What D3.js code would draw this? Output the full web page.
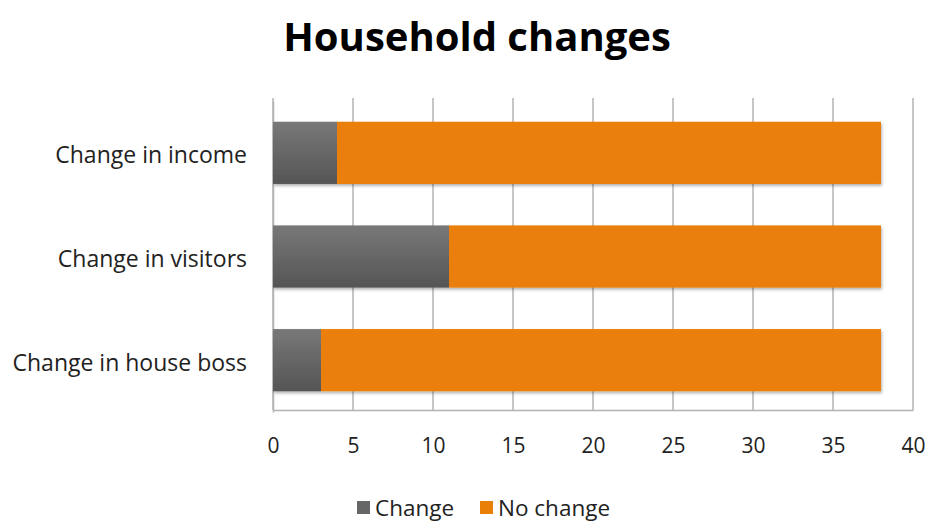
<!DOCTYPE html>
<html>
<head>
<meta charset="utf-8">
<script src="https://d3js.org/d3.v7.min.js"></script>
<style>
  body { margin: 0; background: #fff; }
  text { font-family: "Open Sans", sans-serif; fill: #222; }
</style>
</head>
<body>
<div id="chart"></div>
<script>
var w = 931, h = 523;

// Chart data
var categories = ["Change in income", "Change in visitors", "Change in house boss"];
var changeValues = [4, 11, 3];
var noChangeValues = [34, 27, 35];
var seriesNames = ["Change", "No change"];
var xTicks = [0, 5, 10, 15, 20, 25, 30, 35, 40];

var colors = ["#666666", "#ea7f07"];

var margin = { left: 273, right: 18, top: 98, bottom: 113 };

var x = d3.scaleLinear()
  .domain([0, 40])
  .range([margin.left, w - margin.right]);

var y = d3.scaleBand()
  .domain(categories)
  .range([margin.top + 3, h - margin.bottom + 2])
  .paddingInner(0.4)
  .paddingOuter(0.2);

var svg = d3.select("#chart")
  .append("svg")
  .attr("width", w)
  .attr("height", h);

var defs = svg.append("defs");
var grad = defs.append("linearGradient")
  .attr("id", "grayGrad")
  .attr("x1", 0).attr("y1", 0).attr("x2", 0).attr("y2", 1);
grad.append("stop").attr("offset", "0%").attr("stop-color", "#787878");
grad.append("stop").attr("offset", "100%").attr("stop-color", "#555555");

var shadow = defs.append("filter").attr("id", "shadow")
  .attr("x", "-5%").attr("y", "-10%").attr("width", "110%").attr("height", "130%");
shadow.append("feDropShadow")
  .attr("dx", 1).attr("dy", 2).attr("stdDeviation", 1.5)
  .attr("flood-color", "#000").attr("flood-opacity", 0.3);

// Title
svg.append("text")
  .attr("x", 477)
  .attr("y", 51)
  .attr("text-anchor", "middle")
  .style("font-size", "40px")
  .style("font-weight", "bold")
  .style("fill", "#000")
  .text("Household changes");

// Gridlines
svg.append("g")
  .selectAll("line")
  .data(xTicks)
  .enter()
  .append("line")
  .attr("x1", function(d) { return x(d); })
  .attr("x2", function(d) { return x(d); })
  .attr("y1", margin.top)
  .attr("y2", h - margin.bottom)
  .attr("stroke", "#b3b3b3")
  .attr("stroke-width", 1.5);

// Bottom axis
var xAxis = d3.axisBottom(x)
  .tickValues(xTicks)
  .tickSize(0)
  .tickPadding(28);

var gx = svg.append("g")
  .attr("transform", "translate(0," + (h - margin.bottom) + ")")
  .call(xAxis);
gx.select(".domain").attr("stroke", "#b3b3b3").attr("stroke-width", 1.5);
gx.selectAll("text").style("font-size", "21px").style("fill", "#222");

// Left axis
var yAxis = d3.axisLeft(y).tickSize(0).tickPadding(26);
var gy = svg.append("g")
  .attr("transform", "translate(" + margin.left + ",0)")
  .call(yAxis);
gy.select(".domain").attr("stroke", "#b3b3b3").attr("stroke-width", 1.5);
gy.selectAll("text")
  .attr("dy", "0.45em")
  .style("font-size", "23px")
  .style("fill", "#222");

// Stacked bars
var rows = categories.map(function(c, i) {
  return { cat: c, change: changeValues[i], noChange: noChangeValues[i] };
});
var stack = d3.stack().keys(["change", "noChange"]);
var layers = stack(rows);

var barG = svg.append("g").attr("filter", "url(#shadow)");
layers.forEach(function(layer, k) {
  barG.append("g")
    .selectAll("rect")
    .data(layer)
    .enter()
    .append("rect")
    .attr("x", function(d) { return x(d[0]); })
    .attr("width", function(d) { return x(d[1]) - x(d[0]); })
    .attr("y", function(d) { return y(d.data.cat); })
    .attr("height", y.bandwidth())
    .attr("fill", k === 0 ? "url(#grayGrad)" : colors[1]);
});

// Legend
var legend = svg.append("g");
var legendX = [357, 480];
seriesNames.forEach(function(name, i) {
  legend.append("rect")
    .attr("x", legendX[i])
    .attr("y", 501)
    .attr("width", 13)
    .attr("height", 13)
    .attr("fill", colors[i]);
  legend.append("text")
    .attr("x", legendX[i] + 18)
    .attr("y", 516)
    .style("font-size", "22.5px")
    .text(name);
});
</script>
</body>
</html>
